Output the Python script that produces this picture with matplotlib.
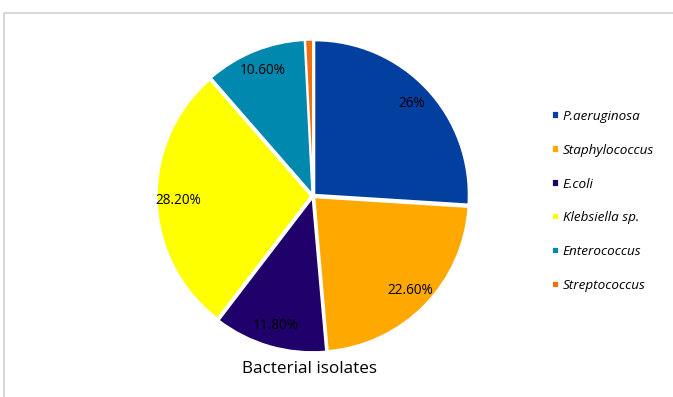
import matplotlib
matplotlib.use("Agg")
import matplotlib.pyplot as plt
from matplotlib.patches import Rectangle
import numpy as np

categories = ["P.aeruginosa", "Staphylococcus", "E.coli", "Klebsiella sp.", "Enterococcus", "Streptococcus"]
values = [26.0, 22.6, 11.8, 28.2, 10.6, 0.8]
pct_labels = ["26%", "22.60%", "11.80%", "28.20%", "10.60%", ""]
colors = ["#023F9E", "#FFA800", "#20006A", "#FFFF00", "#0088AE", "#F07010"]
title = "Bacterial isolates"

plt.rcParams['font.family'] = ['Open Sans', 'DejaVu Sans']

fig = plt.figure(figsize=(6.73, 3.97), dpi=100)

# chart area border (partially visible)
fig.patches.append(Rectangle((4/673, -0.1), 1.1, (397-13)/397 + 0.1, transform=fig.transFigure,
                             fill=False, edgecolor="#D0D0D0", linewidth=1.2))

cx, cy, r = 313, 397-196, 159
ax = fig.add_axes([(cx-r)/673, (cy-r)/397, 2*r/673, 2*r/397])
wedges, _ = ax.pie(values, colors=colors, startangle=90, counterclock=False,
                   explode=[0.012]*len(values), radius=0.97,
                   wedgeprops=dict(edgecolor="white", linewidth=1.3))
total = sum(values)
ang = 90.0
for v, lab in zip(values, pct_labels):
    mid = np.deg2rad(ang - v/total*360/2)
    ang -= v/total*360
    if lab:
        ax.text(0.85*np.cos(mid), 0.85*np.sin(mid), lab, ha="center", va="center",
                fontsize=9.8, color="black")
ax.set_xlim(-1, 1)
ax.set_ylim(-1, 1)
ax.set_aspect("equal")
ax.axis("off")

fig.text(309/673, 1-369/397, title, ha="center", va="center", fontsize=12.3)

leg = fig.legend(wedges, categories, loc="center left", bbox_to_anchor=(540/673, 1-201/397),
                 frameon=False, handlelength=0.5, handleheight=0.5, handletextpad=0.3,
                 labelspacing=1.55, prop=dict(style="italic", size=9.7))
fig.savefig("out.png", dpi=100)
